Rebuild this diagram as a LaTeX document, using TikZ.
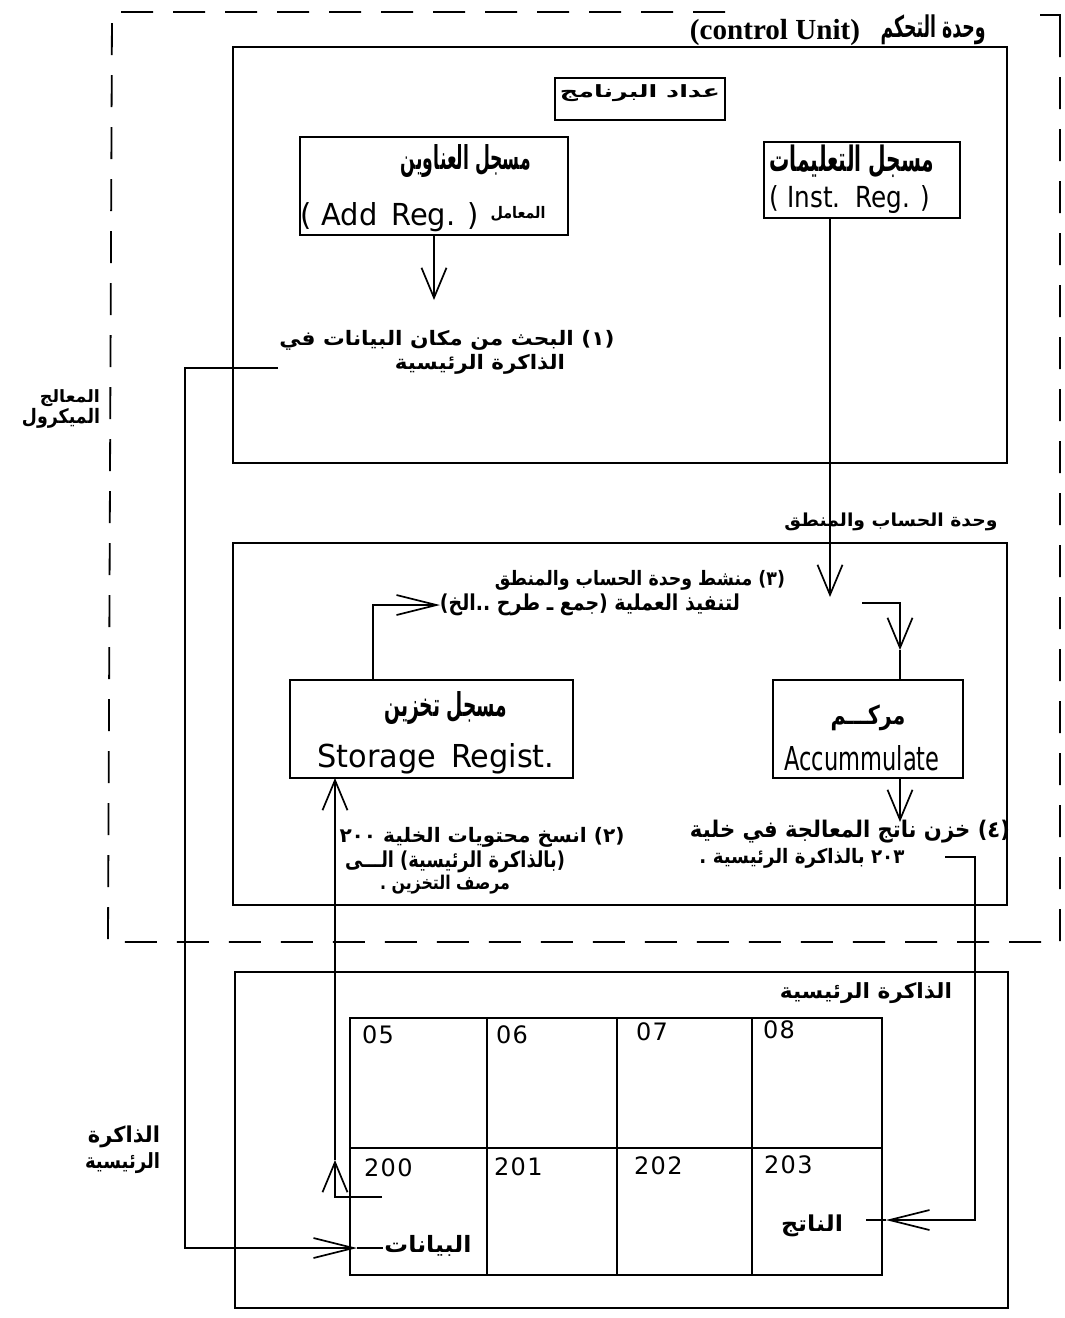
\documentclass[tikz,border=0pt]{standalone}
\usepackage{fontspec}
\setmainfont{Liberation Serif}
\newfontfamily\arfont[Script=Arabic]{DejaVu Sans}
\newfontfamily\plotfont{DejaVu Sans}
\newfontfamily\digfont[LetterSpace=6]{DejaVu Sans}
\TeXXeTstate=1
\usetikzlibrary{arrows.meta}
\newcommand\ART[3]{\resizebox*{#1pt}{#2pt}{\arfont\bfseries #3}}
\newcommand\LAT[3]{\resizebox{#1pt}{#2pt}{\plotfont #3}}
\newcommand\DIG[1]{{\digfont\fontsize{24}{24}\selectfont #1}}
\tikzset{
  box/.style={draw, line width=1.8pt, inner sep=0pt, outer sep=0pt, anchor=north west},
  cell/.style={draw, line width=1.7pt, inner sep=0pt, outer sep=0pt, anchor=north west},
  lbl/.style={inner sep=0pt, outer sep=0pt},
  conn/.style={line width=1.7pt},
  vtip/.style={-{Straight Barb[length=30pt,width=25pt,line width=1.7pt]}},
  htip/.style={-{Straight Barb[length=40pt,width=20pt,line width=1.7pt]}},
  outerline/.style={line width=1.8pt, dash pattern=on 32pt off 20pt}
}
\begin{document}
\begin{tikzpicture}[x=1pt,y=-1pt]
\useasboundingbox (0,0) rectangle (1065,1318);
\fill[white] (0,0) rectangle (1065,1318);

% dashed outline of the microprocessor
\coordinate (o1) at (725,12);
\coordinate (o2) at (112,12);
\coordinate (o3) at (108,942);
\coordinate (o4) at (1060,942);
\coordinate (o5) at (1060,40);
\coordinate (o6) at (1060,15);
\coordinate (o7) at (1040,15);
\draw[outerline] (o1) -- (o2) -- (o3) -- (o4) -- (o5);
\draw[line width=1.8pt] (o5) -- (o6) -- (o7);

% title
\node[lbl] (tten) at (775,32) {\resizebox{170pt}{!}{\bfseries (control Unit)}};
\node[lbl] (ttar) at (933,30) {\ART{105}{30}{\beginR وحدة التحكم\endR}};

% control unit
\node[box, minimum width=774, minimum height=416] (cu) at (233,47) {};
\node[box, minimum width=170, minimum height=42] (pc) at (555,78) {};
\node[lbl] (pct) at (640,93) {\ART{160}{17}{\beginR عداد البرنامج\endR}};

\node[box, minimum width=268, minimum height=98] (ar) at (300,137) {};
\node[lbl] (ar1) at (466,161) {\ART{130}{33}{\beginR مسجل العناوين\endR}};
\node[lbl] (ar2) at (390,217) {\LAT{178}{23}{( Add\, Reg. )}};
\node[lbl] (ar3) at (518,214) {\ART{55}{15}{\beginR المعامل\endR}};

\node[box, minimum width=196, minimum height=76] (ir) at (764,142) {};
\node[lbl] (ir1) at (852,161) {\ART{165}{33}{\beginR مسجل التعليمات\endR}};
\node[lbl] (ir2) at (850,200) {\LAT{160}{22}{( Inst.\, Reg. )}};

\node[lbl] (t1a) at (447,340) {\ART{335}{20}{\beginR (١) البحث من مكان البيانات في\endR}};
\node[lbl] (t1b) at (480,364) {\ART{170}{20}{\beginR الذاكرة الرئيسية\endR}};

% left label
\node[lbl, anchor=east] (mp1) at (100,398) {\ART{60}{17}{\beginR المعالج\endR}};
\node[lbl, anchor=east] (mp2) at (100,418) {\ART{78}{20}{\beginR الميكرول\endR}};

% ALU
\node[lbl] (alut) at (891,522) {\ART{213}{18}{\beginR وحدة الحساب والمنطق\endR}};
\node[box, minimum width=774, minimum height=362] (alu) at (233,543) {};
\node[lbl] (t3a) at (640,580) {\ART{290}{20}{\beginR (٣) منشط وحدة الحساب والمنطق\endR}};
\node[lbl] (t3b) at (590,605) {\ART{300}{22}{\beginR لتنفيذ العملية (جمع ـ طرح ..الخ)\endR}};

\node[box, minimum width=283, minimum height=98] (st) at (290,680) {};
\node[lbl] (st1) at (446,708) {\ART{123}{33}{\beginR مسجل تخزين\endR}};
\node[lbl] (st2) at (436,759) {\LAT{237}{24}{Storage\, Regist.}};

\node[box, minimum width=190, minimum height=98] (acc) at (773,680) {};
\node[lbl] (acc1) at (868,718) {\ART{75}{26}{\beginR مركـــم\endR}};
\node[lbl] (acc2) at (862,758) {\LAT{155}{25}{Accummulate}};

\node[lbl] (t2a) at (482,837) {\ART{285}{20}{\beginR (٢) انسخ محتويات الخلية ٢٠٠\endR}};
\node[lbl] (t2b) at (455,862) {\ART{220}{22}{\beginR (بالذاكرة الرئيسية) الـــى\endR}};
\node[lbl] (t2c) at (445,885) {\ART{130}{19}{\beginR مرصف التخزين .\endR}};

\node[lbl] (t4a) at (850,832) {\ART{320}{23}{\beginR (٤) خزن ناتج المعالجة في خلية\endR}};
\node[lbl] (t4b) at (802,858) {\ART{205}{20}{\beginR ٢٠٣ بالذاكرة الرئيسية .\endR}};

% main memory
\node[box, minimum width=773, minimum height=336] (mem) at (235,972) {};
\node[lbl] (memt) at (866,993) {\ART{172}{21}{\beginR الذاكرة الرئيسية\endR}};
\node[cell, minimum width=137, minimum height=130] (m05) at (350,1018) {};
\node[cell, minimum width=130, minimum height=130] (m06) at (487,1018) {};
\node[cell, minimum width=135, minimum height=130] (m07) at (617,1018) {};
\node[cell, minimum width=130, minimum height=130] (m08) at (752,1018) {};
\node[cell, minimum width=137, minimum height=127] (m200) at (350,1148) {};
\node[cell, minimum width=130, minimum height=127] (m201) at (487,1148) {};
\node[cell, minimum width=135, minimum height=127] (m202) at (617,1148) {};
\node[cell, minimum width=130, minimum height=127] (m203) at (752,1148) {};
\node[lbl, anchor=west] (n05) at (362,1035) {\DIG{05}};
\node[lbl, anchor=west] (n06) at (496,1035) {\DIG{06}};
\node[lbl, anchor=west] (n07) at (636,1032) {\DIG{07}};
\node[lbl, anchor=west] (n08) at (763,1030) {\DIG{08}};
\node[lbl, anchor=west] (n200) at (364,1168) {\DIG{200}};
\node[lbl, anchor=west] (n201) at (494,1167) {\DIG{201}};
\node[lbl, anchor=west] (n202) at (634,1166) {\DIG{202}};
\node[lbl, anchor=west] (n203) at (764,1165) {\DIG{203}};
\node[lbl] (data) at (428,1246) {\ART{87}{21}{\beginR البيانات\endR}};
\node[lbl] (res) at (812,1226) {\ART{62}{22}{\beginR الناتج\endR}};

\node[lbl, anchor=east] (mm1) at (160,1137) {\ART{72}{22}{\beginR الذاكرة\endR}};
\node[lbl, anchor=east] (mm2) at (160,1163) {\ART{75}{21}{\beginR الرئيسية\endR}};

% connectors
\coordinate (a1) at (434,300);
\draw[conn,vtip] (ar.south) -- (a1);

\coordinate (irx) at (830,0);
\coordinate (a2) at (830,597);
\draw[conn,vtip] (ir.south -| irx) -- (a2);

\coordinate (b1) at (278,368);
\coordinate (b2) at (185,368);
\coordinate (b3) at (185,1248);
\coordinate (b4) at (357,1248);
\coordinate (b5) at (383,1248);
\draw[conn,htip] (b1) -- (b2) -- (b3) -- (b4);
\draw[conn] (b4) -- (b5);

\coordinate (sx) at (373,0);
\coordinate (c2) at (373,605);
\coordinate (c3) at (440,605);
\draw[conn,htip] (st.north -| sx) -- (c2) -- (c3);

\coordinate (d1) at (862,603);
\coordinate (d2) at (900,603);
\coordinate (d3) at (900,650);
\draw[conn,vtip] (d1) -- (d2) -- (d3);
\draw[conn] (d3) -- (acc.north -| d3);
\coordinate (e1) at (900,822);
\draw[conn,vtip] (acc.south -| d3) -- (e1);

\coordinate (f1) at (945,857);
\coordinate (f2) at (975,857);
\coordinate (f3) at (975,1220);
\coordinate (f4) at (886,1220);
\coordinate (f5) at (866,1220);
\draw[conn,htip] (f1) -- (f2) -- (f3) -- (f4);
\draw[conn] (f4) -- (f5);

\coordinate (g1) at (382,1197);
\coordinate (g2) at (335,1197);
\coordinate (g3) at (335,1160);
\draw[conn,vtip] (g1) -- (g2) -- (g3);
\draw[conn,vtip] (g3) -- (st.south -| g2);
\end{tikzpicture}
\end{document}
